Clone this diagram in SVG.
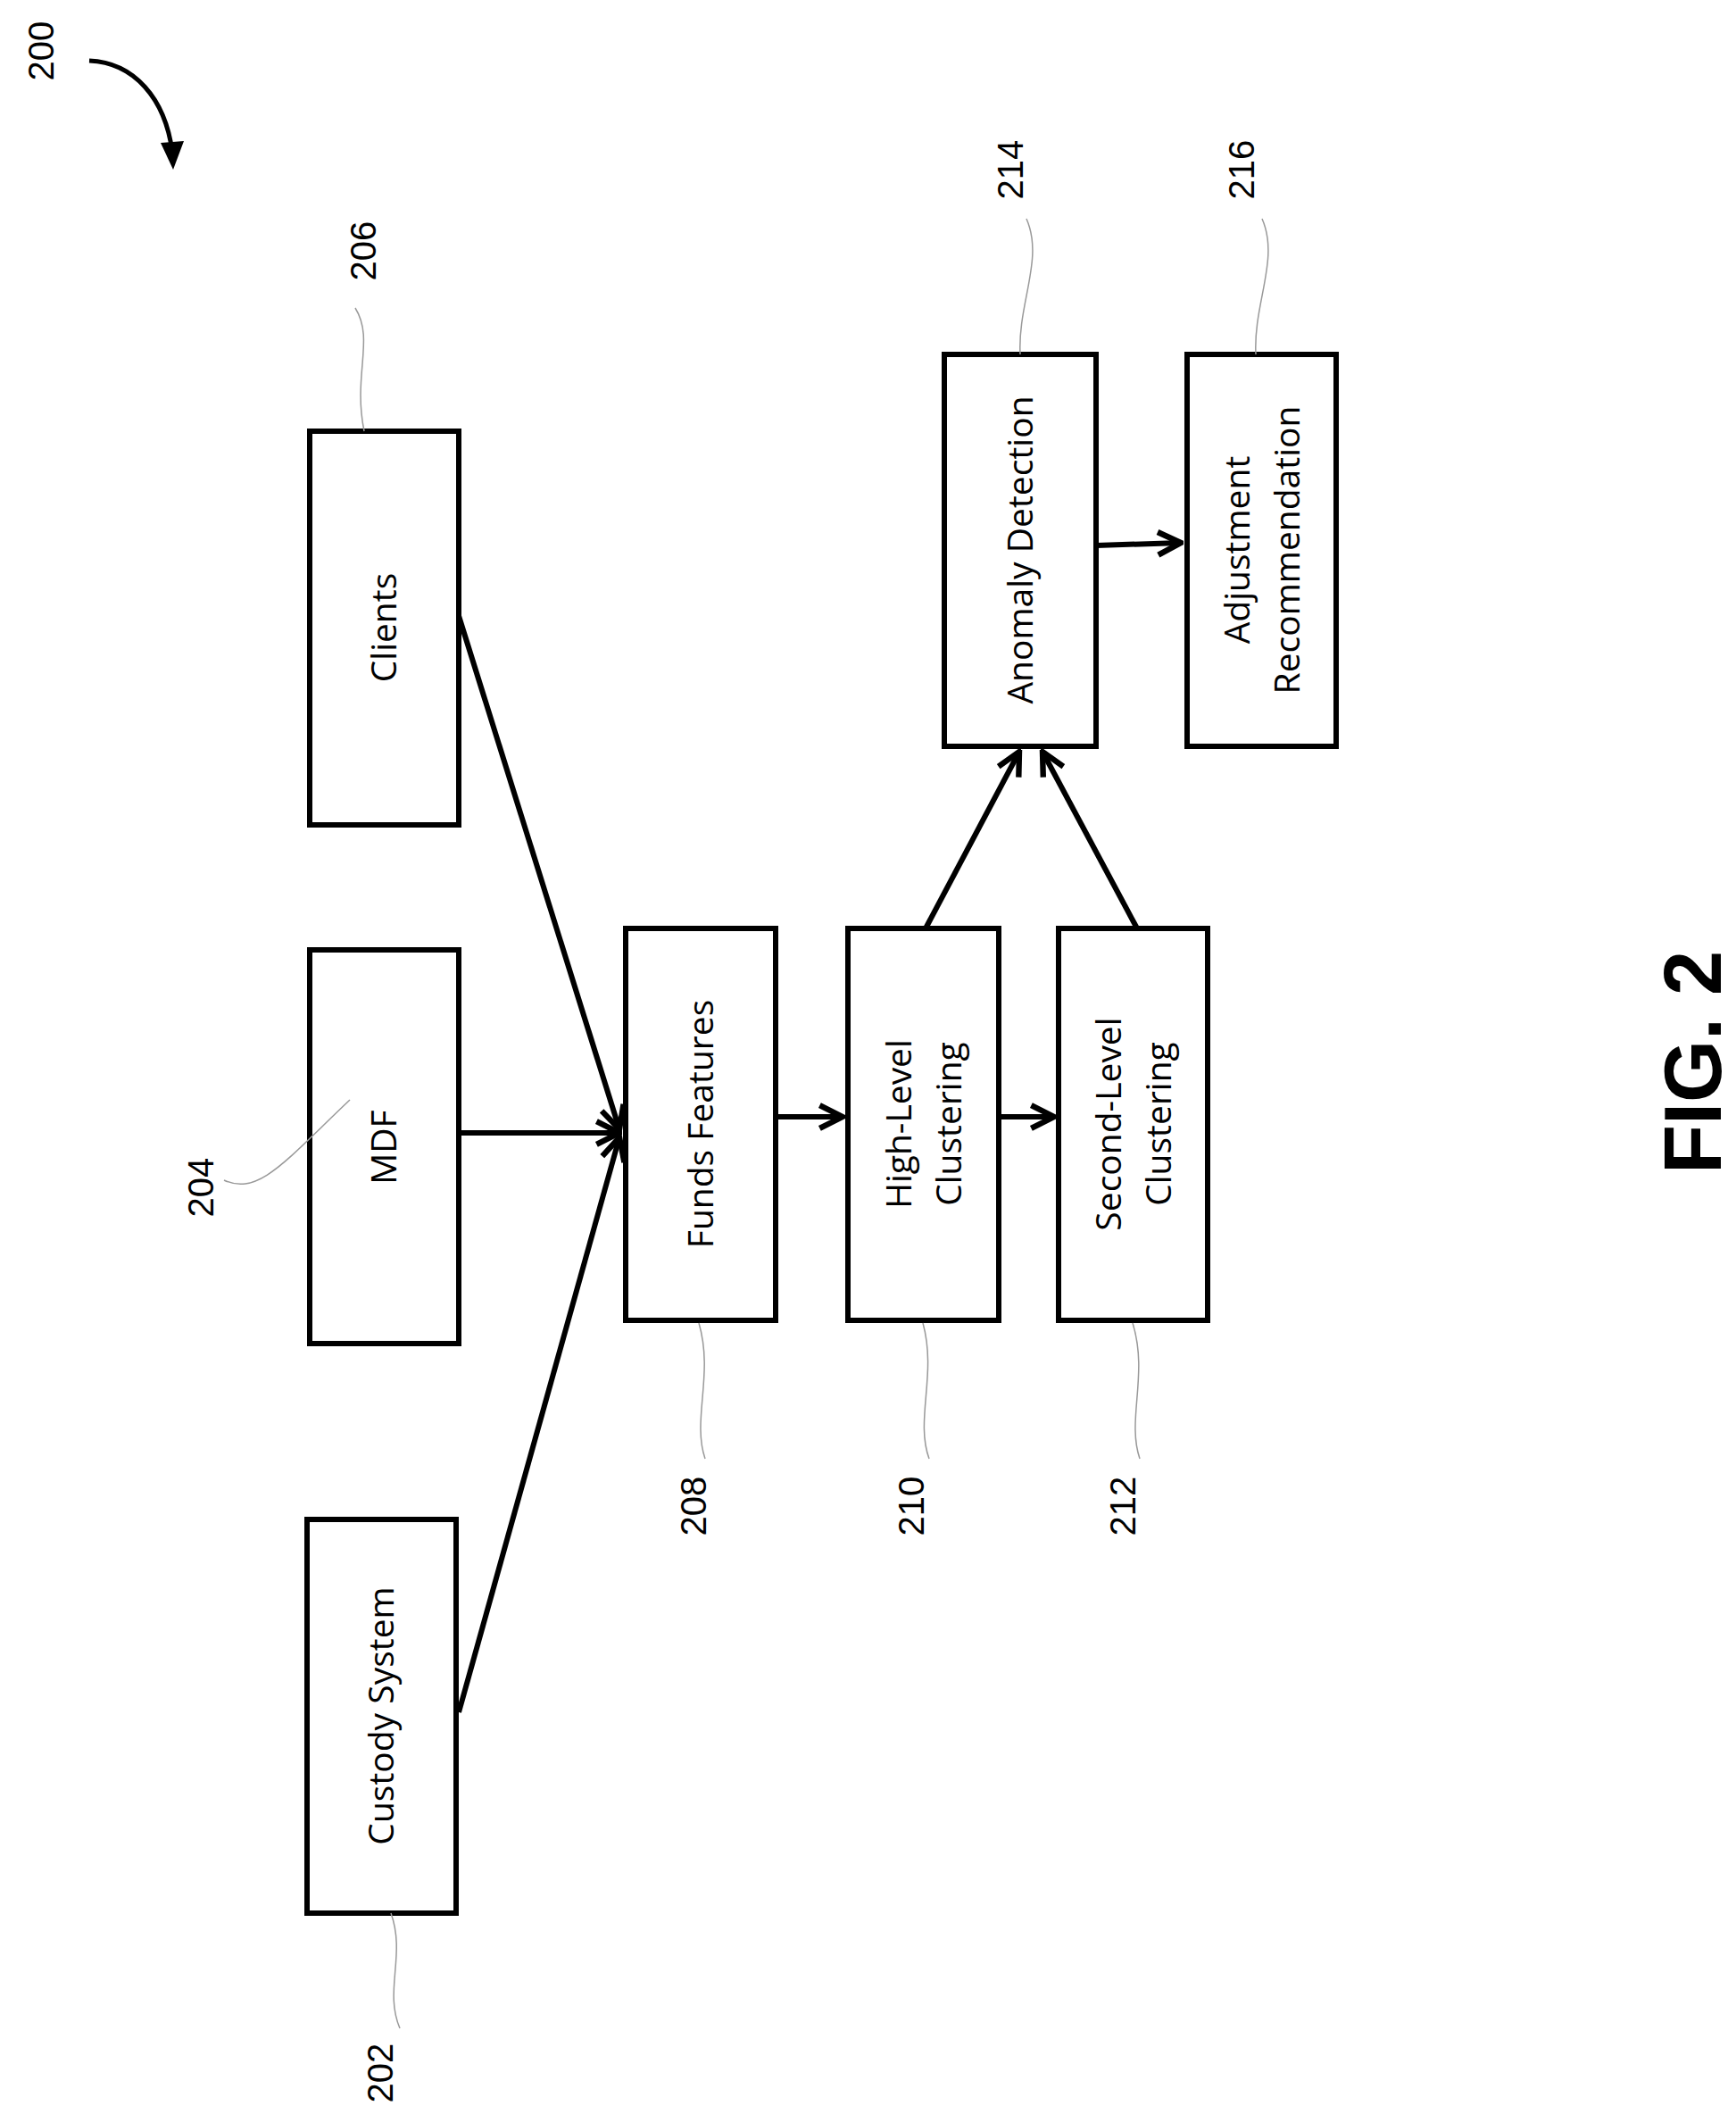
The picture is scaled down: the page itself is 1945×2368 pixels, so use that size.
<svg xmlns="http://www.w3.org/2000/svg" width="1945" height="2368" viewBox="0 0 1945 2368">
<defs>
<style>
.box{fill:#fff;stroke:#000;stroke-width:6}
.t{font-family:"Open Sans","Liberation Sans",sans-serif;font-size:39px;fill:#000;text-anchor:middle}
.n{font-family:"Liberation Sans",sans-serif;font-size:40px;fill:#000;text-anchor:middle}
.ld{fill:none;stroke:#999;stroke-width:1.5}
.c{fill:none;stroke:#000;stroke-width:6}
</style>
<marker id="b" viewBox="0 0 10 10" refX="9" refY="5" markerWidth="32" markerHeight="32" orient="auto" markerUnits="userSpaceOnUse">
<path d="M1,1 L9,5 L1,9" fill="none" stroke="#000" stroke-width="2"/>
</marker>
</defs>
<g id="n200">
<text class="n" transform="translate(60,57) rotate(-90)">200</text>
<path d="M100,68 C150,70 185,110 193,170" fill="none" stroke="#000" stroke-width="5"/>
<path d="M180,160 L194,190 L206,158 Z" fill="#000"/>
</g>
<g id="n206"><rect class="box" x="347" y="483" width="167" height="441"/><text class="t" transform="translate(444,703) rotate(-90)">Clients</text>
<text class="n" transform="translate(421,281) rotate(-90)">206</text><path class="ld" d="M398,345 C420,380 395,420 408,483"/></g>
<g id="n204"><rect class="box" x="347" y="1064" width="167" height="441"/><text class="t" transform="translate(444,1285) rotate(-90)">MDF</text>
<text class="n" transform="translate(239,1330) rotate(-90)">204</text><path class="ld" d="M251,1322 C290,1340 320,1300 392,1232"/></g>
<g id="n202"><rect class="box" x="344" y="1702" width="167" height="441"/><text class="t" transform="translate(441,1922) rotate(-90)">Custody System</text>
<text class="n" transform="translate(440,2322) rotate(-90)">202</text><path class="ld" d="M448,2272 C430,2230 455,2190 438,2143"/></g>
<g id="n208"><rect class="box" x="701" y="1040" width="168" height="439"/><text class="t" transform="translate(799,1259) rotate(-90)">Funds Features</text>
<text class="n" transform="translate(791,1687) rotate(-90)">208</text><path class="ld" d="M790,1634 C775,1590 800,1540 783,1482"/></g>
<g id="n210"><rect class="box" x="950" y="1040" width="169" height="439"/><text class="t" transform="translate(1021,1259) rotate(-90)"><tspan x="0" dy="0">High-Level</tspan><tspan x="0" dy="56">Clustering</tspan></text>
<text class="n" transform="translate(1035,1687) rotate(-90)">210</text><path class="ld" d="M1041,1634 C1025,1590 1050,1540 1034,1482"/></g>
<g id="n212"><rect class="box" x="1186" y="1040" width="167" height="439"/><text class="t" transform="translate(1256,1259) rotate(-90)"><tspan x="0" dy="0">Second-Level</tspan><tspan x="0" dy="56">Clustering</tspan></text>
<text class="n" transform="translate(1272,1687) rotate(-90)">212</text><path class="ld" d="M1277,1634 C1262,1590 1287,1540 1269,1482"/></g>
<g id="n214"><rect class="box" x="1058" y="397" width="170" height="439"/><text class="t" transform="translate(1157,616) rotate(-90)">Anomaly Detection</text>
<text class="n" transform="translate(1146,190) rotate(-90)">214</text><path class="ld" d="M1150,245 C1170,290 1140,340 1143,397"/></g>
<g id="n216"><rect class="box" x="1330" y="397" width="167" height="439"/><text class="t" transform="translate(1400,616) rotate(-90)"><tspan x="0" dy="0">Adjustment</tspan><tspan x="0" dy="56">Recommendation</tspan></text>
<text class="n" transform="translate(1405,190) rotate(-90)">216</text><path class="ld" d="M1414,245 C1434,290 1404,340 1407,397"/></g>
<g id="fig"><text transform="translate(1928,1190) rotate(-90)" font-family="Liberation Sans,Arial,sans-serif" font-weight="bold" font-size="90" text-anchor="middle">FIG. 2</text></g>
<g id="connectors">
<line class="c" x1="514" y1="690" x2="694" y2="1265" marker-end="url(#b)"/>
<line class="c" x1="514" y1="1269" x2="694" y2="1269" marker-end="url(#b)"/>
<line class="c" x1="514" y1="1918" x2="694" y2="1274" marker-end="url(#b)"/>
<line class="c" x1="869" y1="1251" x2="944" y2="1251" marker-end="url(#b)"/>
<line class="c" x1="1119" y1="1251" x2="1181" y2="1251" marker-end="url(#b)"/>
<line class="c" x1="1037" y1="1040" x2="1142" y2="842" marker-end="url(#b)"/>
<line class="c" x1="1274" y1="1040" x2="1168" y2="842" marker-end="url(#b)"/>
<line class="c" x1="1228" y1="611" x2="1323" y2="608" marker-end="url(#b)"/>
</g>
</svg>
